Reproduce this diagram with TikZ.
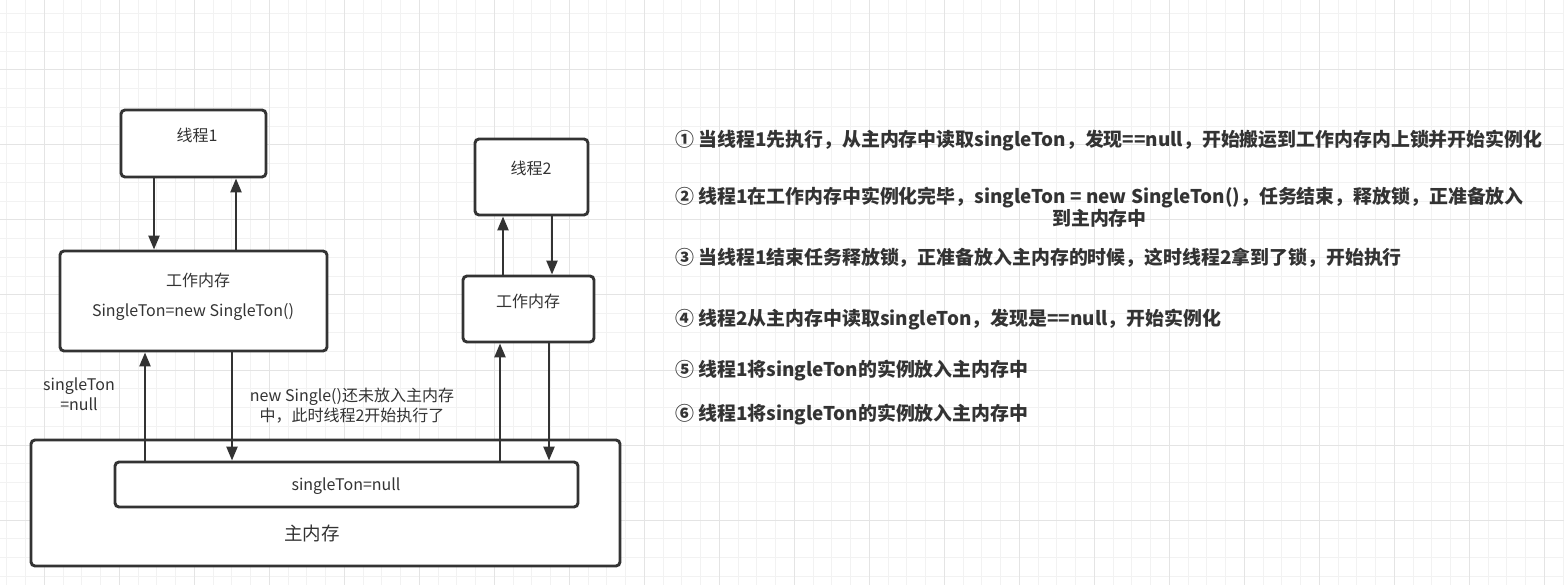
\documentclass[tikz,border=0pt]{standalone}
\usepackage{fontspec}
\setmainfont{Noto Sans CJK SC}
\usetikzlibrary{arrows.meta}
\definecolor{ink}{HTML}{333333}
\definecolor{gridminor}{HTML}{F2F2F2}
\definecolor{gridmajor}{HTML}{E4E4E4}
\tikzset{
	box/.style={draw=ink, line width=2.9pt, fill=white, rounded corners=4pt, inner sep=0pt},
	flow/.style={draw=ink, line width=2.4pt, -{Triangle[length=14pt,width=11pt]}},
	boxtext/.style={text=ink, inner sep=0pt, font=\fontsize{16}{20}\selectfont},
	note/.style={text=ink, inner sep=0pt, anchor=west, font=\bfseries\fontsize{18.9}{22}\selectfont}}

\begin{document}
\begin{tikzpicture}[x=1pt,y=1pt,yscale=-1]
	\fill[white] (0,0) rectangle (1564,585);
	\useasboundingbox (0,0) rectangle (1564,585);

	% background grid
	\foreach \gx in {6.8,25.55,...,1564} \draw[gridminor, line width=1pt] (\gx,0) -- (\gx,585);
	\foreach \gy in {13.75,32.5,...,585} \draw[gridminor, line width=1pt] (0,\gy) -- (1564,\gy);
	\foreach \gx in {44.3,119.3,...,1564} \draw[gridmajor, line width=1pt] (\gx,0) -- (\gx,585);
	\foreach \gy in {70,145,...,585} \draw[gridmajor, line width=1pt] (0,\gy) -- (1564,\gy);

	%Shape: Rectangle
	\node[box, minimum width=145, minimum height=67] (thread1) at (193.5,143.5) {};
	%Shape: Rectangle
	\node[box, minimum width=267, minimum height=100] (wm1) at (193.5,301) {};
	%Shape: Rectangle
	\node[box, minimum width=113, minimum height=76] (thread2) at (531.5,177) {};
	%Shape: Rectangle
	\node[box, minimum width=131, minimum height=66] (wm2) at (528.5,309) {};
	%Shape: Rectangle
	\node[box, minimum width=589, minimum height=126] (mainmem) at (325.5,503) {};
	%Shape: Rectangle
	\node[box, minimum width=463, minimum height=45] (inner) at (346.5,484.5) {};

	% thread 1 <-> working memory 1
	\draw[flow] ([xshift=-39.5pt]thread1.south) -- ([xshift=-39.5pt]thread1.south |- wm1.north);
	\draw[flow] ([xshift=42.5pt]wm1.north) -- ([xshift=42.5pt]wm1.north |- thread1.south);
	% working memory 1 <-> main memory
	\draw[flow] ([xshift=-48.5pt]wm1.south |- inner.north) -- ([xshift=-48.5pt]wm1.south);
	\draw[flow] ([xshift=38.5pt]wm1.south) -- ([xshift=38.5pt]wm1.south |- inner.north);
	% thread 2 <-> working memory 2
	\draw[flow] ([xshift=-25.5pt]wm2.north) -- ([xshift=-25.5pt]wm2.north |- thread2.south);
	\draw[flow] ([xshift=20.5pt]thread2.south) -- ([xshift=20.5pt]thread2.south |- wm2.north);
	% working memory 2 <-> main memory
	\draw[flow] ([xshift=-28.5pt]wm2.south |- inner.north) -- ([xshift=-28.5pt]wm2.south);
	\draw[flow] ([xshift=20.5pt]wm2.south) -- ([xshift=20.5pt]wm2.south |- inner.north);

	% Text Node
	\node[boxtext] (thread1lab) at (197,135) {线程1};
	% Text Node
	\node[boxtext] (wm1lab) at (198,280) {工作内存};
	% Text Node
	\node[boxtext] (wm1code) at (193,312) {SingleTon=new SingleTon()};
	% Text Node
	\node[boxtext] (thread2lab) at (531,168) {线程2};
	% Text Node
	\node[boxtext] (wm2lab) at (528,301) {工作内存};
	% Text Node
	\node[boxtext] (innerlab) at (346,486) {singleTon=null};
	% Text Node
	\node[boxtext, font=\fontsize{18.5}{22}\selectfont] (mainlab) at (312,533) {主内存};
	% Text Node
	\node[boxtext, align=center] (nulllab) at (79,394) {singleTon\\=null};
	% Text Node
	\node[boxtext, align=center] (pendlab) at (352,406) {new Single()还未放入主内存\\中，此时线程2开始执行了};

	% Text Node
	\node[note] (note1) at (675,141) {① 当线程1先执行，从主内存中读取singleTon，发现==null，开始搬运到工作内存内上锁并开始实例化};
	% Text Node
	\node[note, align=center] (note2) at (675,207) {② 线程1在工作内存中实例化完毕，singleTon = new SingleTon()，任务结束，释放锁，正准备放入\\到主内存中};
	% Text Node
	\node[note] (note3) at (675,258) {③ 当线程1结束任务释放锁，正准备放入主内存的时候，这时线程2拿到了锁，开始执行};
	% Text Node
	\node[note] (note4) at (675,320) {④ 线程2从主内存中读取singleTon，发现是==null，开始实例化};
	% Text Node
	\node[note] (note5) at (675,371) {⑤ 线程1将singleTon的实例放入主内存中};
	% Text Node
	\node[note] (note6) at (675,415) {⑥ 线程1将singleTon的实例放入主内存中};

\end{tikzpicture}
\end{document}
